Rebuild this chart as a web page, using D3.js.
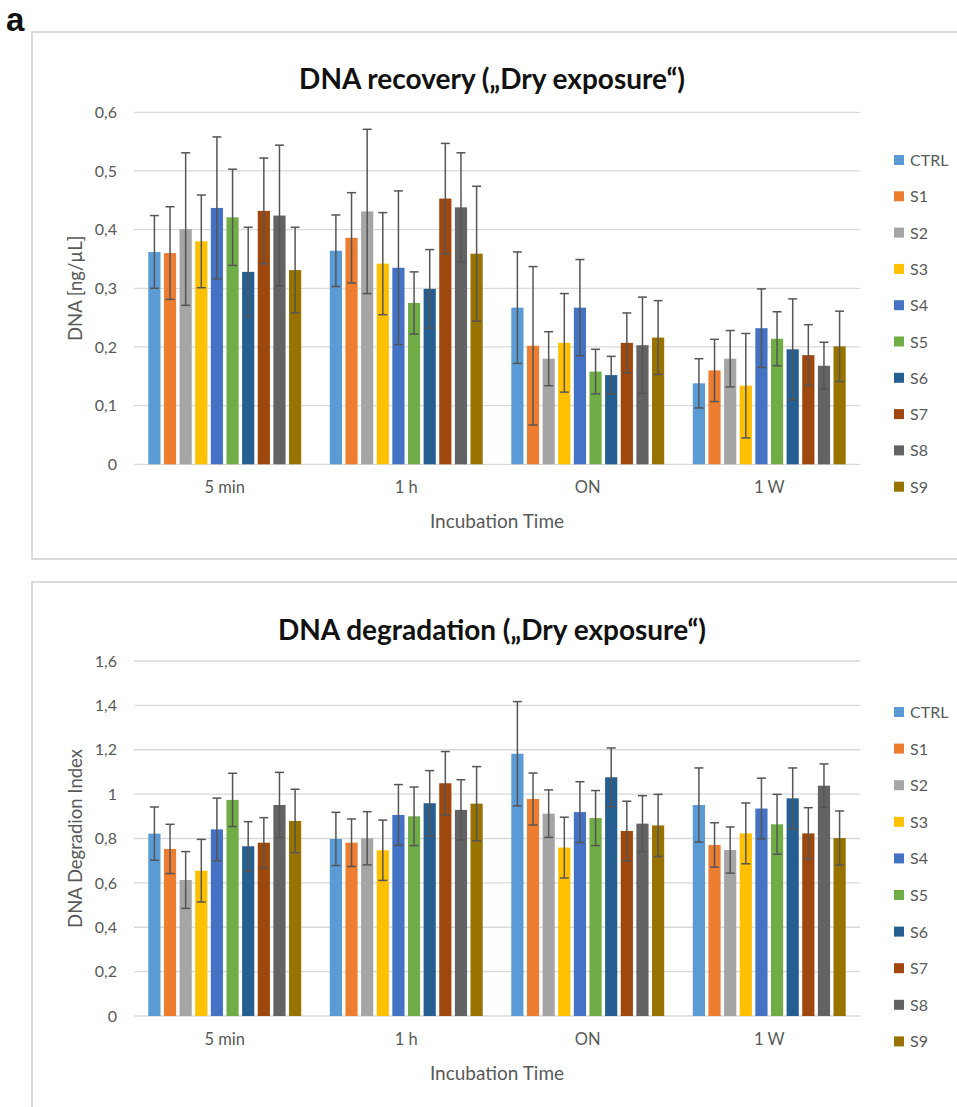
<!DOCTYPE html>
<html>
<head>
<meta charset="utf-8">
<script src="https://cdn.jsdelivr.net/npm/d3@7"></script>
<style>
  html, body { margin: 0; padding: 0; background: #fff; }
  svg { display: block; font-family: Lato, "Liberation Sans", sans-serif; }
</style>
</head>
<body>
<svg id="chart" width="957" height="1107"></svg>
<script>
const categories = ["5 min", "1 h", "ON", "1 W"];
const seriesNames = ["CTRL", "S1", "S2", "S3", "S4", "S5", "S6", "S7", "S8", "S9"];
const seriesColors = ["#5B9BD5", "#ED7D31", "#A5A5A5", "#FFC000", "#4472C4", "#70AD47", "#255E91", "#9E480E", "#636363", "#997300"];

// DNA recovery [ng/µL]: one row per series, one value per category
const recoveryValues = [
  [0.362, 0.364, 0.267, 0.138],
  [0.360, 0.386, 0.202, 0.160],
  [0.401, 0.431, 0.180, 0.180],
  [0.380, 0.342, 0.207, 0.134],
  [0.437, 0.335, 0.267, 0.232],
  [0.421, 0.275, 0.158, 0.214],
  [0.328, 0.299, 0.152, 0.196],
  [0.432, 0.453, 0.207, 0.186],
  [0.424, 0.438, 0.203, 0.168],
  [0.331, 0.359, 0.216, 0.201]
];
const recoveryErrors = [
  [0.062, 0.061, 0.095, 0.042],
  [0.079, 0.077, 0.135, 0.053],
  [0.130, 0.140, 0.046, 0.048],
  [0.079, 0.087, 0.084, 0.089],
  [0.121, 0.131, 0.082, 0.067],
  [0.082, 0.053, 0.038, 0.046],
  [0.076, 0.067, 0.032, 0.086],
  [0.090, 0.094, 0.051, 0.052],
  [0.120, 0.093, 0.082, 0.040],
  [0.073, 0.115, 0.063, 0.060]
];

// DNA degradation index
const degradationValues = [
  [0.822, 0.798, 1.182, 0.951],
  [0.753, 0.781, 0.978, 0.771],
  [0.613, 0.801, 0.912, 0.748],
  [0.655, 0.747, 0.759, 0.823],
  [0.841, 0.906, 0.919, 0.935],
  [0.974, 0.900, 0.892, 0.864],
  [0.765, 0.959, 1.076, 0.981],
  [0.781, 1.049, 0.834, 0.823],
  [0.951, 0.929, 0.867, 1.038],
  [0.879, 0.957, 0.859, 0.802]
];
const degradationErrors = [
  [0.120, 0.120, 0.235, 0.167],
  [0.111, 0.107, 0.117, 0.100],
  [0.128, 0.120, 0.107, 0.104],
  [0.141, 0.136, 0.137, 0.137],
  [0.141, 0.137, 0.137, 0.137],
  [0.120, 0.132, 0.124, 0.135],
  [0.111, 0.147, 0.132, 0.137],
  [0.113, 0.143, 0.134, 0.116],
  [0.147, 0.136, 0.126, 0.098],
  [0.143, 0.167, 0.140, 0.122]
];

const recoveryTicks = [0, 0.1, 0.2, 0.3, 0.4, 0.5, 0.6];
const degradationTicks = [0, 0.2, 0.4, 0.6, 0.8, 1, 1.2, 1.4, 1.6];

const svg = d3.select("#chart");
const fmt = v => d3.format("~g")(+v.toFixed(2)).replace(".", ",");
const FONT = "Lato, 'Liberation Sans', sans-serif";

svg.append("text").attr("x", 6).attr("y", 31)
  .attr("font-size", 33).attr("font-weight", "bold").attr("fill", "#111")
  .attr("font-family", "'Liberation Sans Narrow', 'Liberation Sans', sans-serif")
  .text("a");

function drawPanel(cfg) {
  const g = svg.append("g");
  // panel frame
  g.append("rect")
    .attr("x", cfg.panel.x).attr("y", cfg.panel.y)
    .attr("width", cfg.panel.w).attr("height", cfg.panel.h)
    .attr("fill", "#fff").attr("stroke", "#cfcfcf").attr("stroke-width", 1.5);

  const x0 = d3.scaleBand().domain(categories).range([134, 860]).padding(0);
  const x1 = d3.scaleBand().domain(seriesNames)
    .range([14.3, x0.bandwidth() - 14.3]).paddingInner(0.22).paddingOuter(0);
  const y = d3.scaleLinear().domain([0, cfg.max]).range([cfg.bottom, cfg.top]);

  // gridlines
  g.append("g").selectAll("line").data(cfg.ticks).join("line")
    .attr("x1", 134).attr("x2", 860)
    .attr("y1", d => y(d)).attr("y2", d => y(d))
    .attr("stroke", "#d9d9d9").attr("stroke-width", 1.3);

  // y tick labels via axis
  const yAxis = d3.axisLeft(y).tickValues(cfg.ticks).tickSize(0).tickPadding(0).tickFormat(fmt);
  const ya = g.append("g").attr("transform", "translate(117,0)").call(yAxis);
  ya.select(".domain").remove();
  ya.selectAll("text").attr("font-size", 16).attr("fill", "#595959").attr("font-family", FONT);

  // x labels via axis
  const xAxis = d3.axisBottom(x0).tickSize(0).tickPadding(0);
  const xa = g.append("g").attr("transform", `translate(0,${cfg.bottom + 17})`).call(xAxis);
  xa.select(".domain").remove();
  xa.selectAll("text").attr("font-size", 16.5).attr("fill", "#595959").attr("font-family", FONT);

  // bars
  const flat = [];
  seriesNames.forEach((s, si) => categories.forEach((c, ci) => {
    flat.push({ s, si, c, v: cfg.values[si][ci], e: cfg.errors[si][ci] });
  }));
  g.append("g").selectAll("rect").data(flat).join("rect")
    .attr("x", d => x0(d.c) + x1(d.s))
    .attr("width", x1.bandwidth())
    .attr("y", d => y(d.v))
    .attr("height", d => y(0) - y(d.v))
    .attr("fill", d => seriesColors[d.si]);

  // error bars
  const eg = g.append("g").attr("stroke", "#555").attr("stroke-width", 1.5).attr("fill", "none");
  const cx = d => x0(d.c) + x1(d.s) + x1.bandwidth() / 2;
  eg.selectAll("line.v").data(flat).join("line").attr("class", "v")
    .attr("x1", cx).attr("x2", cx)
    .attr("y1", d => y(d.v + d.e)).attr("y2", d => y(d.v - d.e));
  eg.selectAll("line.t").data(flat).join("line").attr("class", "t")
    .attr("x1", d => cx(d) - 4.5).attr("x2", d => cx(d) + 4.5)
    .attr("y1", d => y(d.v + d.e)).attr("y2", d => y(d.v + d.e));
  eg.selectAll("line.b").data(flat).join("line").attr("class", "b")
    .attr("x1", d => cx(d) - 4.5).attr("x2", d => cx(d) + 4.5)
    .attr("y1", d => y(d.v - d.e)).attr("y2", d => y(d.v - d.e));

  // title
  g.append("text").attr("x", 492).attr("y", cfg.titleY)
    .attr("text-anchor", "middle").attr("font-size", 28).attr("font-weight", "bold")
    .attr("fill", "#111").text(cfg.title);

  // axis titles
  g.append("text").attr("x", 497).attr("y", cfg.bottom + 64)
    .attr("text-anchor", "middle").attr("font-size", 19).attr("fill", "#595959")
    .text("Incubation Time");
  g.append("text")
    .attr("transform", `translate(82,${(cfg.top + cfg.bottom) / 2}) rotate(-90)`)
    .attr("text-anchor", "middle").attr("font-size", 18.5).attr("fill", "#595959")
    .text(cfg.yTitle);

  // legend
  const lg = g.append("g").selectAll("g").data(seriesNames).join("g")
    .attr("transform", (d, i) => `translate(894,${cfg.legendY + i * cfg.legendStep})`);
  lg.append("rect").attr("x", 0).attr("y", -5).attr("width", 10).attr("height", 10)
    .attr("fill", (d, i) => seriesColors[i]);
  lg.append("text").attr("x", 16).attr("y", 6).attr("font-size", 16).attr("fill", "#595959")
    .text(d => d);
}

drawPanel({
  panel: { x: 32, y: 32, w: 940, h: 527 },
  title: "DNA recovery (\u201EDry exposure\u201C)",
  titleY: 89,
  yTitle: "DNA [ng/\u00B5L]",
  max: 0.6, ticks: recoveryTicks,
  top: 112.3, bottom: 464.3,
  values: recoveryValues, errors: recoveryErrors,
  legendY: 160, legendStep: 36.3
});

drawPanel({
  panel: { x: 32, y: 582, w: 940, h: 560 },
  title: "DNA degradation (\u201EDry exposure\u201C)",
  titleY: 640,
  yTitle: "DNA Degradion Index",
  max: 1.6, ticks: degradationTicks,
  top: 661, bottom: 1016,
  values: degradationValues, errors: degradationErrors,
  legendY: 712, legendStep: 36.6
});
</script>
</body>
</html>
